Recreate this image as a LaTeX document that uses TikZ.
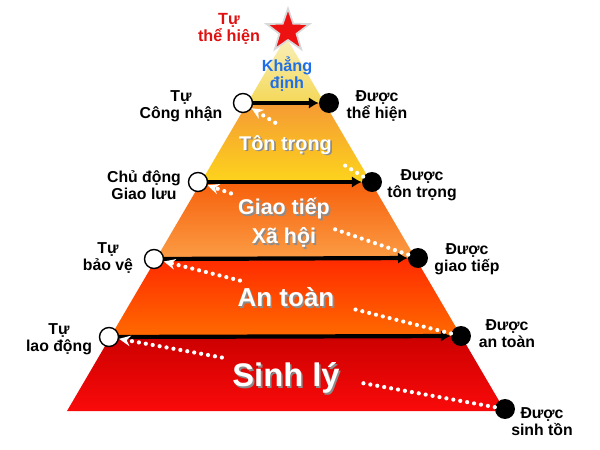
\documentclass[tikz,border=0pt]{standalone}
\usepackage{fontspec}
\setmainfont{Liberation Sans}
\usetikzlibrary{shapes.geometric,arrows.meta,calc}
\definecolor{starred}{HTML}{EE1111}
\definecolor{selfred}{HTML}{E01010}
\definecolor{affirmblue}{HTML}{1F6FE8}
\definecolor{topA}{HTML}{F9F0BC}
\definecolor{topB}{HTML}{F4D858}
\definecolor{respA}{HTML}{F59A34}
\definecolor{respB}{HTML}{FDD41C}
\definecolor{socA}{HTML}{F7600C}
\definecolor{socB}{HTML}{FB9C44}
\definecolor{safeA}{HTML}{FF2A00}
\definecolor{safeB}{HTML}{FF6A00}
\definecolor{physA}{HTML}{CC0000}
\definecolor{physB}{HTML}{FA0A0A}
\tikzset{
  side/.style={align=center,font=\bfseries\fontsize{9}{9.8}\selectfont},
  opendot/.style={circle,draw=black,line width=0.8pt,fill=white,minimum size=0.38cm,inner sep=0pt},
  fulldot/.style={circle,fill=black,minimum size=0.4cm,inner sep=0pt},
  bar/.style={line width=2.4pt,-{Latex[length=5.5pt,width=6.5pt]}},
  dots/.style={white,line width=2.4pt,dash pattern=on 0pt off 4pt,line cap=round},
  dothead/.style={dots,-{Stealth[length=6.5pt,width=6pt]}}
}
% white layer title with a grey drop shadow
\newcommand{\layertext}[4]{%
  \node[font=#2,text=black!45,align=center] at ([shift={(1.6,1.6)}]#1) {#4};
  \node[font=#2,text=white,align=center] (#3) at (#1) {#4};}

\begin{document}
\begin{tikzpicture}[x=0.02cm,y=-0.02cm]
  \useasboundingbox (0,0) rectangle (600,450);
  % layers of the pyramid
  \shade[top color=topA, bottom color=topB] (286,37) -- (324.6,103) -- (247.4,103) -- cycle;
  \shade[top color=respA, bottom color=respB] (247.4,103) -- (324.6,103) -- (370.9,182) -- (201.1,182) -- cycle;
  \shade[top color=socA, bottom color=socB] (201.1,182) -- (370.9,182) -- (415.4,258) -- (156.6,258) -- cycle;
  \shade[top color=safeA, bottom color=safeB] (156.6,258) -- (415.4,258) -- (461.1,336) -- (110.9,336) -- cycle;
  \shade[top color=physA, bottom color=physB] (110.9,336) -- (461.1,336) -- (505,411) -- (67,411) -- cycle;
  \node[star,star points=5,star point ratio=2.5,fill=starred,draw=white!85!black,line width=1pt,minimum size=0.9cm,inner sep=0pt] (star) at (288,31) {};

  % dots on the edges
  \node[opendot] (o1) at (243,103) {};
  \node[opendot] (o2) at (198,182) {};
  \node[opendot] (o3) at (154,259) {};
  \node[opendot] (o4) at (109,337) {};
  \node[fulldot] (f1) at (329,103) {};
  \node[fulldot] (f2) at (372,182) {};
  \node[fulldot] (f3) at (418,258) {};
  \node[fulldot] (f4) at (461,336) {};
  \node[fulldot] (f5) at (505,409) {};

  \draw[bar] (o1) -- (f1);
  \draw[bar] (o2) -- (f2);
  \draw[bar] (o3) -- (f3);
  \draw[bar] (o4) -- (f4);

  % dotted returns, broken behind the titles
  \draw[dots] (f2) -- ($(f2)!0.25!(o1)$);
  \draw[dothead] ($(f2)!0.75!(o1)$) -- (o1);
  \draw[dots] (f3) -- ($(f3)!0.38!(o2)$);
  \draw[dothead] ($(f3)!0.85!(o2)$) -- (o2);
  \draw[dots] (f4) -- ($(f4)!0.35!(o3)$);
  \draw[dothead] ($(f4)!0.72!(o3)$) -- (o3);
  \draw[dots] (f5) -- ($(f5)!0.37!(o4)$);
  \draw[dothead] ($(f5)!0.715!(o4)$) -- (o4);

  % titles
  \node[align=center,text=selfred,font=\bfseries\fontsize{9.2}{10}\selectfont] (selfreal) at (229,29) {Tự\\thể hiện};
  \node[align=center,text=affirmblue,font=\bfseries\fontsize{9.2}{9.6}\selectfont] (affirm) at (287,74) {Khẳng\\định};
  \layertext{285.5,145}{\bfseries\fontsize{11.3}{13}\selectfont}{respect}{Tôn trọng}
  \layertext{284,223}{\bfseries\fontsize{12.2}{16.4}\selectfont}{social}{Giao tiếp\\Xã hội}
  \layertext{286,297}{\bfseries\fontsize{14.8}{17}\selectfont}{safety}{An toàn}
  \layertext{286,378}{\bfseries\fontsize{18.6}{21}\selectfont}{physio}{Sinh lý}

  % side labels
  \node[side] (l1) at (181,106) {Tự\\Công nhận};
  \node[side] (l2) at (144,185) {Chủ động\\Giao lưu};
  \node[side] (l3) at (108,258) {Tự\\bảo vệ};
  \node[side] (l4) at (59,339) {Tự\\lao động};
  \node[side] (r1) at (377,106) {Được\\thể hiện};
  \node[side] (r2) at (422,185) {Được\\tôn trọng};
  \node[side] (r3) at (467,259) {Được\\giao tiếp};
  \node[side] (r4) at (507,334) {Được\\an toàn};
  \node[side] (r5) at (542,422) {Được\\sinh tồn};
\end{tikzpicture}
\end{document}
